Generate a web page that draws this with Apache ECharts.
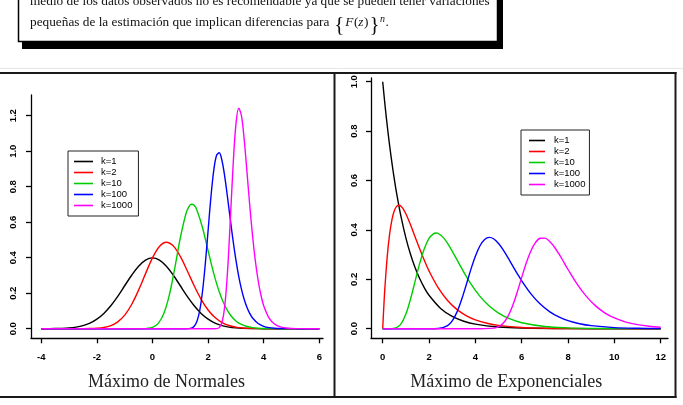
<!DOCTYPE html>
<html><head><meta charset="utf-8">
<script src="https://cdn.jsdelivr.net/npm/echarts@6/dist/echarts.min.js"></script>
<style>html,body{margin:0;padding:0;background:#fff}#c{width:683px;height:405px}</style>
</head><body><div id="c"></div>
<script>
// ---------- data ----------
const names = ['k=1', 'k=2', 'k=10', 'k=100', 'k=1000'];
const colors = ['#000000', '#ff0000', '#00cd00', '#0000ff', '#ff00ff'];

const normTicksX = [-4, -2, 0, 2, 4, 6];
const normTicksY = [0, 0.2, 0.4, 0.6, 0.8, 1.0, 1.2];
const expTicksX = [0, 2, 4, 6, 8, 10, 12];
const expTicksY = [0, 0.2, 0.4, 0.6, 0.8, 1.0];

// Máximo de Normales
const nx1 = [-4,-3.5,-3.25,-3,-2.75,-2.5,-2.25,-2,-1.75,-1.5,-1.25,-1,-0.75,-0.5,-0.25,0,0.25,0.5,0.75,1,1.25,1.5,1.75,2,2.25,2.5,2.75,3,3.25,3.5,4,5,6];
const ny1 = [0.0001,0.0009,0.0020,0.0044,0.0091,0.0175,0.0317,0.0540,0.0863,0.1295,0.1826,0.2420,0.3011,0.3521,0.3867,0.3989,0.3867,0.3521,0.3011,0.2420,0.1826,0.1295,0.0863,0.0540,0.0317,0.0175,0.0091,0.0044,0.0020,0.0009,0.0001,0,0];
const nx2 = [-4,-3,-2.5,-2.25,-2,-1.75,-1.5,-1.25,-1,-0.75,-0.5,-0.25,0,0.25,0.5,0.75,1,1.25,1.5,1.75,2,2.25,2.5,2.75,3,3.25,3.5,4,5,6];
const ny2 = [0,0,0.0002,0.0008,0.0025,0.0069,0.0173,0.0386,0.0768,0.1365,0.2173,0.3104,0.3989,0.4630,0.4869,0.4657,0.4072,0.3266,0.2417,0.1657,0.1055,0.0626,0.0348,0.0182,0.0088,0.0040,0.0018,0.0003,0,0];
const nx10 = [-4,-0.6,-0.4,-0.2,0,0.2,0.4,0.6,0.8,1.0,1.2,1.3,1.4,1.5,1.6,1.8,2.0,2.2,2.4,2.6,2.8,3.0,3.2,3.4,3.6,3.8,4.0,4.4,5,6];
const ny10 = [0,0,0.0003,0.0016,0.0078,0.0287,0.0822,0.1860,0.3398,0.5110,0.6461,0.6854,0.7013,0.6950,0.6678,0.5685,0.4390,0.3130,0.2080,0.1304,0.0772,0.0438,0.0237,0.0123,0.0061,0.0029,0.0013,0.0002,0,0];
const nx100 = [-4,1.2,1.4,1.5,1.6,1.7,1.8,1.9,2.0,2.1,2.2,2.3,2.4,2.5,2.6,2.7,2.8,2.9,3.0,3.1,3.2,3.3,3.4,3.5,3.6,3.8,4.0,4.2,4.4,4.6,5,6];
const ny100 = [0,0.0001,0.0036,0.0138,0.0419,0.1030,0.2109,0.3665,0.5533,0.7384,0.8873,0.9746,0.9909,0.9461,0.8552,0.7389,0.6145,0.4944,0.3877,0.2968,0.2227,0.1643,0.1192,0.0853,0.0602,0.0290,0.0133,0.0059,0.0025,0.0010,0.0002,0];
const nx1000 = [-4,2.2,2.3,2.4,2.5,2.6,2.7,2.8,2.9,3.0,3.1,3.2,3.3,3.4,3.5,3.6,3.7,3.8,3.9,4.0,4.2,4.4,4.6,4.8,5.0,5.4,6];
const ny1000 = [0,0,0.0006,0.0060,0.0348,0.1276,0.3245,0.6144,0.9212,1.1497,1.2420,1.1997,1.0629,0.8799,0.6920,0.5221,0.3816,0.2716,0.1897,0.1296,0.0581,0.0248,0.0101,0.0040,0.0015,0.0002,0];

// Máximo de Exponenciales
const ex1 = [0,0.1,0.2,0.3,0.4,0.5,0.6,0.8,1.0,1.2,1.4,1.6,1.8,2.0,2.5,3,3.5,4,5,6,8,10,12];
const ey1 = [1,0.9048,0.8187,0.7408,0.6703,0.6065,0.5488,0.4493,0.3679,0.3012,0.2466,0.2019,0.1653,0.1353,0.0821,0.0498,0.0302,0.0183,0.0067,0.0025,0.0003,0,0];
const ex2 = [0,0.05,0.1,0.2,0.3,0.4,0.5,0.6,0.7,0.8,0.9,1.0,1.2,1.4,1.6,1.8,2.0,2.4,2.8,3.2,3.6,4.0,4.5,5,6,7,8,10,12];
const ey2 = [0,0.0928,0.1722,0.2968,0.3840,0.4420,0.4773,0.4952,0.5000,0.4949,0.4825,0.4651,0.4210,0.3716,0.3223,0.2760,0.2340,0.1650,0.1142,0.0782,0.0532,0.0360,0.0220,0.0134,0.0049,0.0018,0.0007,0.0001,0];
const ex10 = [0,0.2,0.4,0.6,0.8,1.0,1.2,1.4,1.6,1.8,2.0,2.2,2.3,2.4,2.6,2.8,3.0,3.4,3.8,4.2,4.6,5.0,5.5,6,7,8,9,10,12];
const ey10 = [0,0,0.0003,0.0043,0.0209,0.0593,0.1197,0.1928,0.2653,0.3251,0.3656,0.3850,0.3874,0.3855,0.3708,0.3457,0.3144,0.2459,0.1825,0.1309,0.0918,0.0634,0.0394,0.0242,0.0091,0.0033,0.0012,0.0005,0.0001];
const ex100 = [0,2.0,2.4,2.8,3.0,3.2,3.4,3.6,3.8,4.0,4.2,4.4,4.6,4.8,5.0,5.2,5.4,5.6,5.8,6.0,6.4,6.8,7.2,7.6,8.0,8.5,9,10,11,12];
const ey100 = [0,0,0.0007,0.0122,0.0317,0.0662,0.1159,0.1759,0.2382,0.2938,0.3359,0.3614,0.3697,0.3632,0.3450,0.3191,0.2886,0.2563,0.2243,0.1939,0.1410,0.0998,0.0694,0.0476,0.0324,0.0199,0.0122,0.0045,0.0017,0.0006];
const ex1000 = [0,4.0,4.4,4.8,5.0,5.2,5.4,5.6,5.8,6.0,6.2,6.4,6.6,6.8,7.0,7.2,7.4,7.6,7.8,8.0,8.4,8.8,9.2,9.6,10,10.5,11,11.5,12];
const ey1000 = [0,0,0.0001,0.0021,0.0079,0.0220,0.0491,0.0913,0.1463,0.2077,0.2667,0.3155,0.3492,0.3661,0.3667,0.3542,0.3319,0.3037,0.2722,0.2397,0.1797,0.1299,0.0913,0.0633,0.0434,0.0268,0.0164,0.0100,0.0061];

const textLine1 = 'medio de los datos observados no es recomendable ya que se pueden tener variaciones';
const textLine2 = 'pequeñas de la estimación que implican diferencias para ';
const caption1 = 'Máximo de Normales';
const caption2 = 'Máximo de Exponenciales';

// ---------- build ----------
const SANS = '"Liberation Sans", Arial, sans-serif';
const SERIF = '"Liberation Serif", "Times New Roman", serif';

function xAx(gi, min, max, ticks) {
  return {
    type: 'value', gridIndex: gi, min: min, max: max,
    axisLine: { show: true, onZero: false, lineStyle: { color: '#000', width: 1.3 } },
    axisTick: { show: true, customValues: ticks, length: 5, lineStyle: { color: '#000', width: 1.3 } },
    axisLabel: { customValues: ticks, margin: 14, fontSize: 9.5, fontWeight: 'bold', color: '#000', fontFamily: SANS },
    splitLine: { show: false }
  };
}
function yAx(gi, min, max, ticks, margin) {
  return {
    type: 'value', gridIndex: gi, min: min, max: max,
    axisLine: { show: true, onZero: false, lineStyle: { color: '#000', width: 1.3 } },
    axisTick: { show: true, customValues: ticks, length: 5, lineStyle: { color: '#000', width: 1.3 } },
    axisLabel: { customValues: ticks, rotate: 90, margin: margin, fontSize: 9.5, fontWeight: 'bold', color: '#000', fontFamily: SANS,
      formatter: function (v) { return (+v).toFixed(1); } },
    splitLine: { show: false }
  };
}

const normSets = [[nx1, ny1], [nx2, ny2], [nx10, ny10], [nx100, ny100], [nx1000, ny1000]];
const expSets = [[ex1, ey1], [ex2, ey2], [ex10, ey10], [ex100, ey100], [ex1000, ey1000]];

function mk(set, i, gi) {
  return {
    type: 'line', name: names[i], xAxisIndex: gi, yAxisIndex: gi,
    data: set[0].map(function (x, j) { return [x, set[1][j]]; }),
    showSymbol: false, symbol: 'none', smooth: 0.35,
    lineStyle: { color: colors[i], width: 1.4 }, itemStyle: { color: colors[i] },
    silent: true, clip: true
  };
}
const series = normSets.map(function (s, i) { return mk(s, i, 0); })
  .concat(expSets.map(function (s, i) { return mk(s, i, 1); }));

function legendAt(left, top, iw, pad, tpad) {
  return {
    left: left, top: top, orient: 'vertical', data: names, icon: 'rect',
    itemWidth: iw, itemHeight: 1.6, itemGap: 0, padding: pad,
    borderColor: '#222', borderWidth: 1, borderRadius: 0, backgroundColor: '#fff',
    selectedMode: false, itemStyle: { borderWidth: 0 },
    textStyle: { fontSize: 9.5, lineHeight: 11, color: '#000', fontFamily: SANS, padding: [0, 0, 0, tpad] }
  };
}

// text measurement for the formula after line 2
const mctx = document.createElement('canvas').getContext('2d');
function tw(t, font) { mctx.font = font; return mctx.measureText(t).width; }
const FS = 13.3;
const F_N = FS + 'px ' + SERIF;
const F_I = 'italic ' + FS + 'px ' + SERIF;
const F_B = '21px ' + SERIF;
const F_S = 'italic 10px ' + SERIF;

const graphics = [
  { type: 'line', shape: { x1: 0, y1: 68.5, x2: 683, y2: 68.5 }, style: { stroke: '#e6e6e6', lineWidth: 1 } },
  { type: 'rect', shape: { x: 22, y: -20, width: 481, height: 69 }, style: { fill: '#000' } },
  { type: 'rect', shape: { x: 18.5, y: -20, width: 479, height: 61.5 }, style: { fill: '#fff', stroke: '#000', lineWidth: 1.5 } },
  { type: 'text', x: 30, y: 1.5, style: { text: textLine1, font: F_N, fill: '#111', textAlign: 'left', textVerticalAlign: 'middle' } },
  { type: 'text', x: 30, y: 22.3, style: { text: textLine2, font: F_N, fill: '#111', textAlign: 'left', textVerticalAlign: 'middle' } }
];
const mathPieces = [
  { t: '{', f: F_B, y: 25.6, gap: 1.5 },
  { t: 'F', f: F_I, y: 22.3, gap: 1 },
  { t: '(', f: F_N, y: 22.3, gap: 0.5 },
  { t: 'z', f: F_I, y: 22.3, gap: 0 },
  { t: ')', f: F_N, y: 22.3, gap: 0.5 },
  { t: '}', f: F_B, y: 25.6, gap: 1 },
  { t: 'n', f: F_S, y: 19.5, gap: 0.5 },
  { t: '.', f: F_N, y: 22.3, gap: 0.5 }
];
let cx = 30 + tw(textLine2, F_N);
mathPieces.forEach(function (p) {
  cx += p.gap;
  graphics.push({ type: 'text', x: cx, y: p.y, style: { text: p.t, font: p.f, fill: '#111', textAlign: 'left', textVerticalAlign: 'middle' } });
  cx += tw(p.t, p.f);
});
// panel frames
[[0, 73, 676.5, 73], [0, 397, 676.5, 397], [334.5, 72, 334.5, 398], [675.5, 72, 675.5, 398]].forEach(function (l) {
  graphics.push({ type: 'line', shape: { x1: l[0], y1: l[1], x2: l[2], y2: l[3] }, style: { stroke: '#1a1a1a', lineWidth: 2 } });
});
graphics.push({ type: 'text', x: 166.5, y: 382, style: { text: caption1, font: '18px ' + SERIF, fill: '#222', textAlign: 'center', textVerticalAlign: 'middle' } });
graphics.push({ type: 'text', x: 506.2, y: 382, style: { text: caption2, font: '18px ' + SERIF, fill: '#222', textAlign: 'center', textVerticalAlign: 'middle' } });

const option = {
  animation: false,
  backgroundColor: '#fff',
  grid: [
    { left: 31, top: 95, width: 292, height: 243.3, containLabel: false },
    { left: 371, top: 78, width: 297, height: 260.3, containLabel: false }
  ],
  xAxis: [xAx(0, -4.370, 6.133, normTicksX), xAx(1, -0.505, 12.315, expTicksX)],
  yAxis: [yAx(0, -0.0541, 1.3166, normTicksY, 13), yAx(1, -0.0389, 1.015, expTicksY, 11.5)],
  legend: [legendAt(68, 151, 19, [5, 6, 5, 6], 3), legendAt(521, 130, 16, [5, 4, 5, 8], 4)],
  series: series,
  graphic: { elements: graphics }
};
const chart = echarts.init(document.getElementById('c'), null, { renderer: 'canvas' });
chart.setOption(option);
</script></body></html>
